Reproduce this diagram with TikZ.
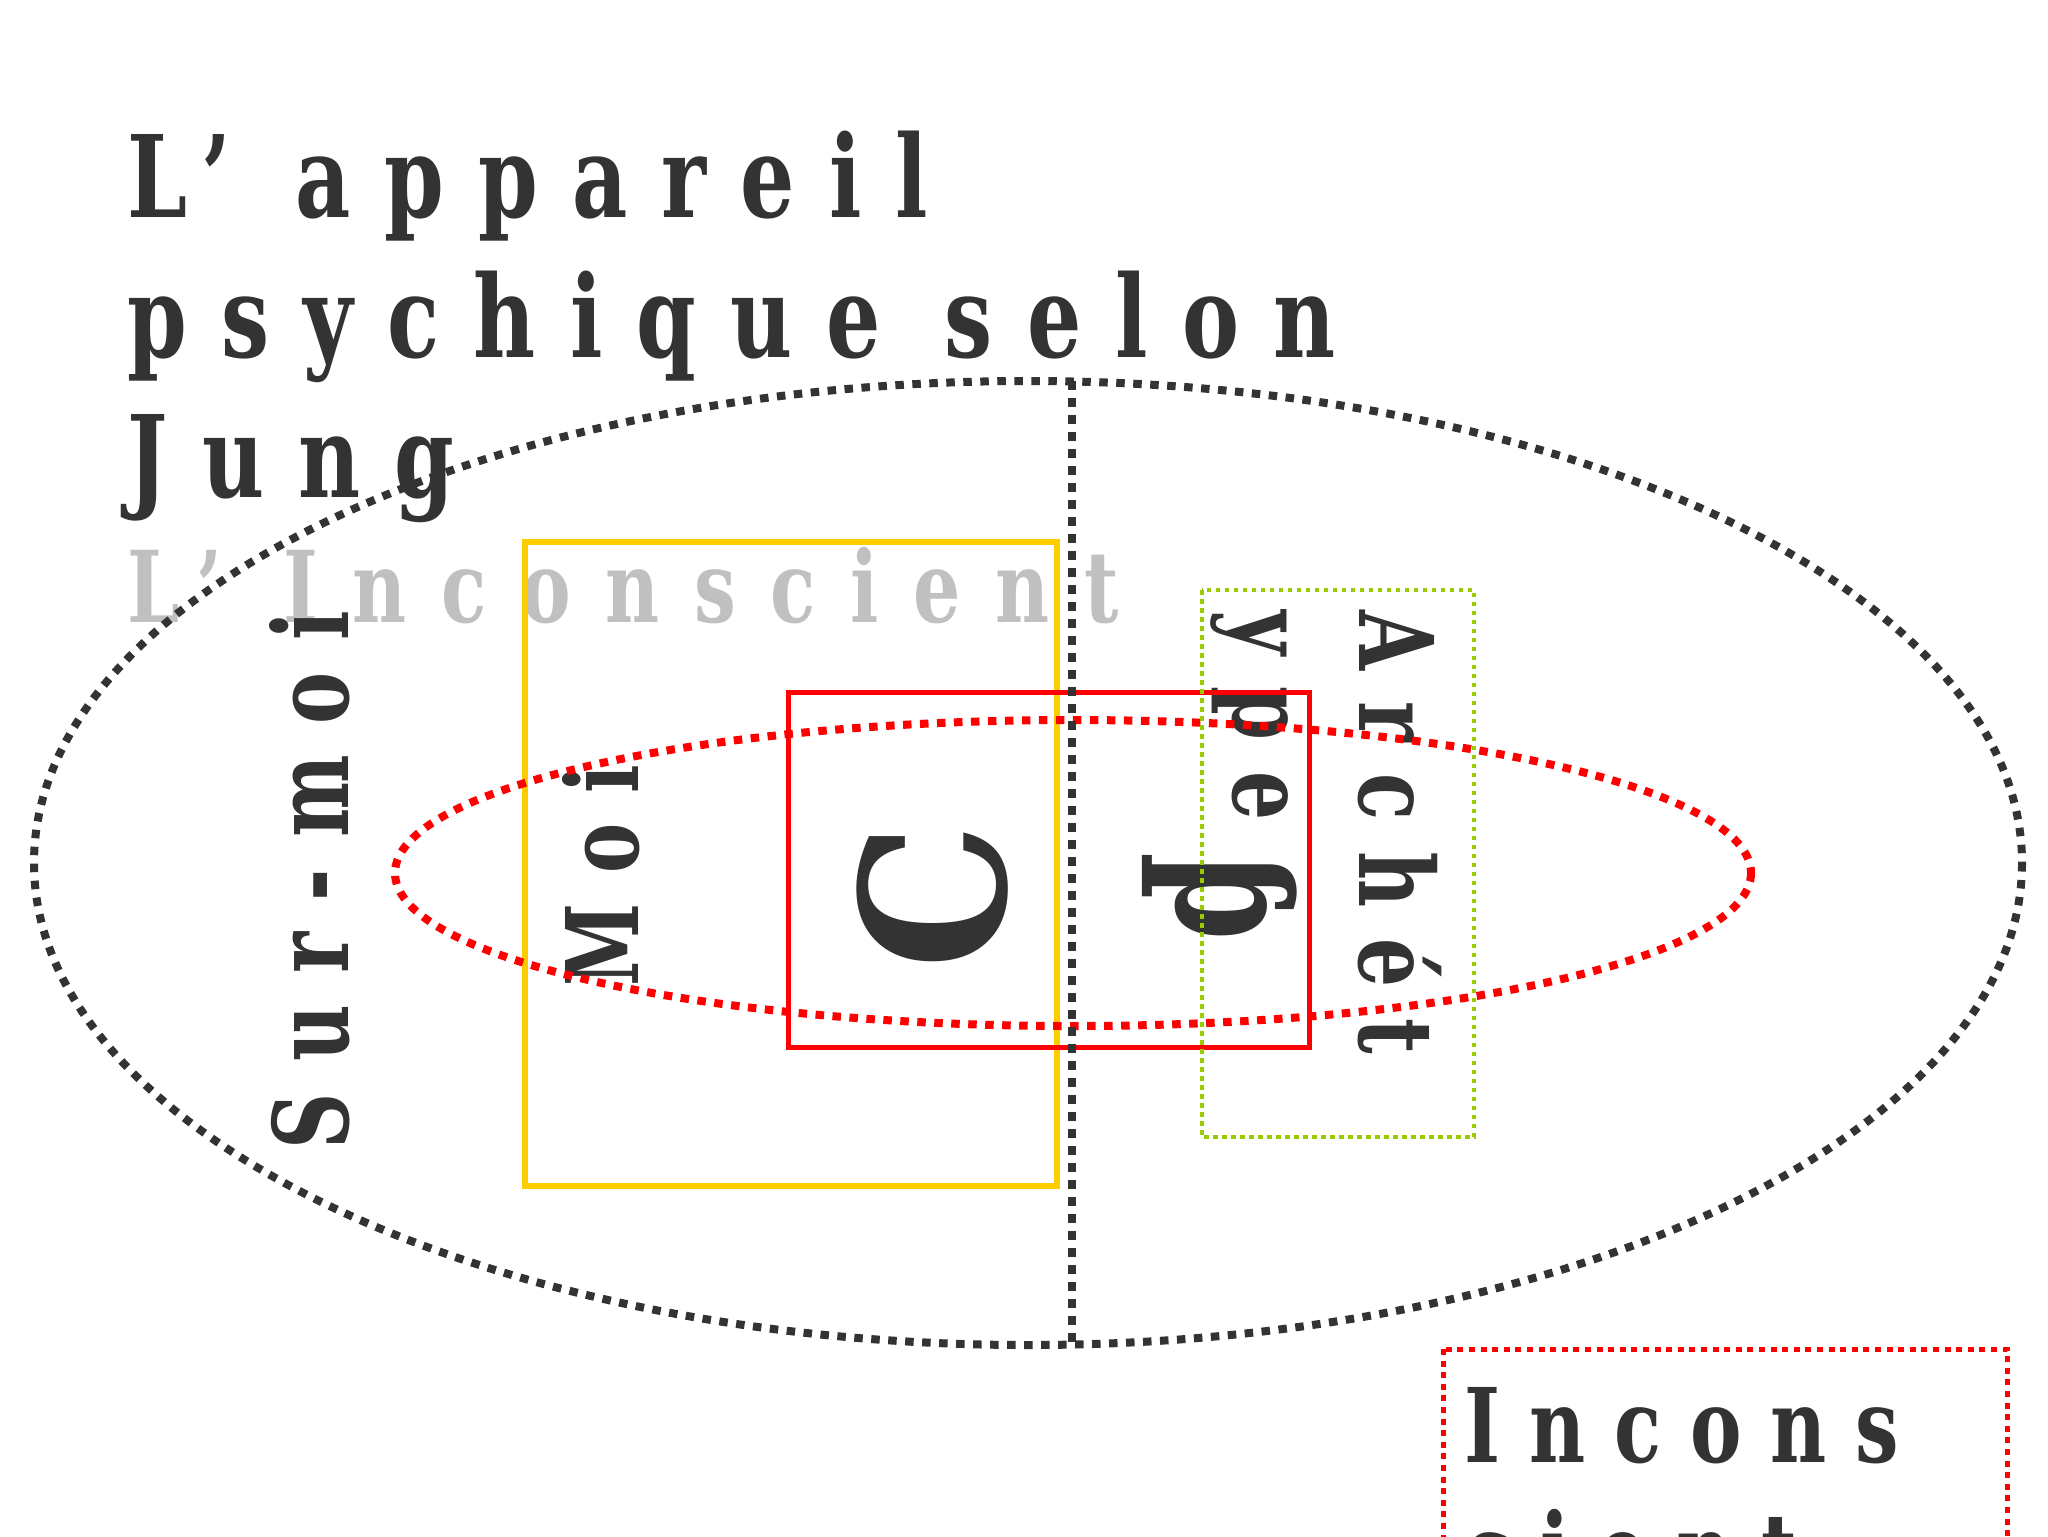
\documentclass[tikz,border=0pt]{standalone}
\usepackage{fontspec}
\setmainfont{DejaVu Serif}[FakeStretch=0.75]
\definecolor{ink}{HTML}{333333}
\definecolor{fog}{HTML}{C0C0C0}
\definecolor{moigold}{HTML}{FFCC00}
\definecolor{archgreen}{HTML}{99CC00}
\definecolor{jungred}{HTML}{FF0000}
\newcommand{\spaced}[3]{\bfseries\fontsize{#1}{#2}\selectfont\addfontfeature{LetterSpace=#3}}
\begin{document}
\begin{tikzpicture}[x=0.1mm,y=-0.1mm,
	lbl/.style={inner sep=0pt,text=ink,anchor=base west},
	dots/.style={line width=0.8mm,dash pattern=on 0.85mm off 0.85mm}]
	\useasboundingbox (0,0) rectangle (2048,1536);
	\clip (0,0) rectangle (2048,1536);
	% texts (base = last line)
	\node[lbl,align=left,font=\spaced{32.4pt}{39.8pt}{30}] (titre) at (127,497) {L’ appareil\\psychique selon\\Jung};
	\node[lbl,text=fog,font=\spaced{28.2pt}{34pt}{35}] (inconscient) at (127,622) {L’ Inconscient};
	\node[lbl,rotate=90,font=\spaced{29.6pt}{36pt}{30}] (surmoi) at (348,1150) {Sur-moi};
	\node[lbl,rotate=90,font=\spaced{28.5pt}{34pt}{30}] (moi) at (638,987) {Moi};
	\node[lbl,rotate=90,font=\spaced{57pt}{60pt}{30}] (conscient) at (1005,970) {\scalebox{1.22}[1]{C}};
	\node[lbl,rotate=-90,align=left,font=\spaced{29.3pt}{36pt}{30}] (archetype) at (1233,610)
		{Archét\\ype\hspace{3.2mm}\raisebox{-5.6mm}{\fontsize{48pt}{50pt}\selectfont ƥ}};
	\node[lbl,align=left,font=\spaced{29.3pt}{35.3pt}{28}] (incons) at (1464,1587) {Incons\\cient};
	% boites
	\draw[moigold,line width=0.55mm] (525,542) rectangle (1057,1186);
	\draw[jungred,line width=0.5mm] (788,692) rectangle (1309,1047);
	\draw[jungred,dots] (1073,873) ellipse (678 and 153);
	\draw[ink,dots] (1028,863) ellipse (994 and 482);
	\draw[ink,dots] (1072,381) -- (1072,1345);
	\draw[archgreen,line width=0.4mm,dash pattern=on 0.45mm off 0.45mm] (1202,590) rectangle (1474,1137);
	\draw[jungred,line width=0.5mm,dash pattern=on 0.6mm off 0.56mm] (1443,1349) rectangle (2007,1700);
\end{tikzpicture}
\end{document}
